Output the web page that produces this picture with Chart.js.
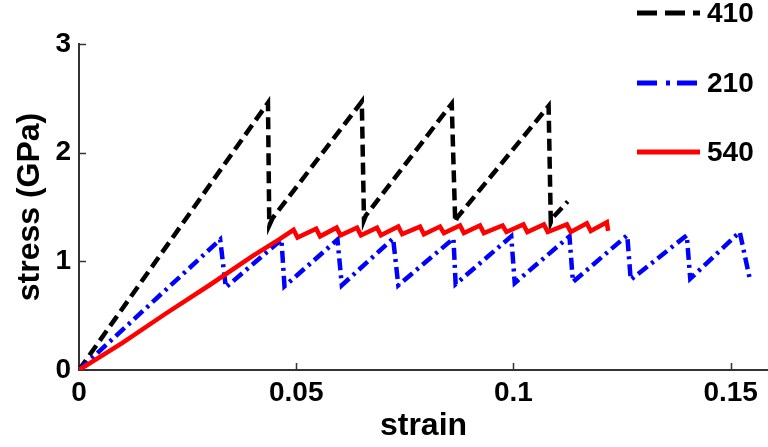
<!DOCTYPE html>
<html>
<head>
<meta charset="utf-8">
<script src="https://cdn.jsdelivr.net/npm/chart.js@4"></script>
<style>
    html, body { margin: 0; padding: 0; background: #fff; }
    #wrap { width: 768px; height: 447px; }
</style>
</head>
<body>
<div id="wrap"><canvas id="stressChart" width="768" height="447"></canvas></div>
<script>
const X_TICKS = [0, 0.05, 0.1, 0.15];
const Y_TICKS = [0, 1, 2, 3];
const SERIES_NAMES = ['410', '210', '540'];

// 410 - black dashed
const strain410 = [0, 0.0435, 0.0438, 0.0446, 0.0651, 0.0656, 0.0660, 0.0858, 0.0866, 0.0870, 0.1081, 0.1086, 0.1090, 0.1125];
const stress410 = [0, 2.46, 1.33, 1.40, 2.47, 1.38, 1.42, 2.45, 1.36, 1.40, 2.43, 1.36, 1.40, 1.55];

// 210 - blue dash-dot
const strain210 = [0, 0.0325, 0.0338, 0.0466, 0.0473, 0.0595, 0.0605, 0.0723, 0.0735, 0.0862, 0.0867,
    0.0995, 0.1003, 0.1129, 0.1137, 0.1262, 0.1270, 0.1399, 0.1407, 0.1521, 0.1544];
const stress210 = [0, 1.20, 0.76, 1.20, 0.77, 1.20, 0.78, 1.21, 0.78, 1.21, 0.79,
    1.23, 0.80, 1.23, 0.81, 1.24, 0.83, 1.24, 0.84, 1.27, 0.84];

// 540 - red solid
const strain540 = [0, 0.0100, 0.0200, 0.0300, 0.0400, 0.0460, 0.0494, 0.0503, 0.0546, 0.0555, 0.0593, 0.0602,
    0.0640, 0.0649, 0.0686, 0.0695, 0.0735, 0.0744, 0.0785, 0.0794, 0.0831, 0.0840, 0.0877, 0.0886,
    0.0923, 0.0932, 0.0975, 0.0984, 0.1023, 0.1032, 0.1070, 0.1079, 0.1123, 0.1132, 0.1169, 0.1178, 0.1215, 0.1218];
const stress540 = [0, 0.25, 0.52, 0.78, 1.05, 1.20, 1.29, 1.22, 1.30, 1.23, 1.31, 1.24,
    1.31, 1.24, 1.31, 1.24, 1.32, 1.25, 1.32, 1.25, 1.32, 1.26, 1.33, 1.26,
    1.33, 1.26, 1.33, 1.27, 1.34, 1.27, 1.34, 1.27, 1.34, 1.27, 1.35, 1.28, 1.36, 1.28];

const FONT = "'Liberation Sans', Arial, sans-serif";
const AXIS_COLOR = '#333';

function toPoints(xs, ys) {
    return xs.map((x, i) => ({ x: x, y: ys[i] }));
}

// matlab style ticks pointing into the plot
const inwardTicks = {
    id: 'inwardTicks',
    afterDatasetsDraw(chart) {
        const { ctx, scales: { x, y } } = chart;
        ctx.save();
        ctx.strokeStyle = AXIS_COLOR;
        ctx.lineWidth = 1.5;
        X_TICKS.slice(1).forEach(v => {
            const px = Math.round(x.getPixelForValue(v)) + 0.5;
            ctx.beginPath();
            ctx.moveTo(px, y.bottom);
            ctx.lineTo(px, y.bottom - 7);
            ctx.stroke();
        });
        Y_TICKS.slice(1).forEach(v => {
            const py = Math.round(y.getPixelForValue(v)) + 0.5;
            ctx.beginPath();
            ctx.moveTo(x.left, py);
            ctx.lineTo(x.left + 7, py);
            ctx.stroke();
        });
        ctx.restore();
    }
};

// legend sits in the top right corner, stacked
const cornerLegend = {
    id: 'cornerLegend',
    afterDraw(chart) {
        const ctx = chart.ctx;
        const rows = [
            { y: 13, color: '#000000', dash: [20, 8] },
            { y: 83, color: '#0000ff', dash: [20, 9, 4, 7] },
            { y: 152, color: '#ff0000', dash: [] }
        ];
        ctx.save();
        rows.forEach((r, i) => {
            ctx.beginPath();
            ctx.strokeStyle = r.color;
            ctx.lineWidth = 5;
            ctx.setLineDash(r.dash);
            ctx.moveTo(637, r.y);
            ctx.lineTo(700, r.y);
            ctx.stroke();
            ctx.setLineDash([]);
            ctx.fillStyle = '#000';
            ctx.font = 'bold 28px ' + FONT;
            ctx.textAlign = 'left';
            ctx.textBaseline = 'middle';
            ctx.fillText(SERIES_NAMES[i], 707, r.y + 1);
        });
        ctx.restore();
    }
};

const ctx = document.getElementById('stressChart').getContext('2d');
new Chart(ctx, {
    type: 'scatter',
    data: {
        datasets: [
            {
                label: SERIES_NAMES[2],
                data: toPoints(strain540, stress540),
                borderColor: '#ff0000',
                borderWidth: 4.5,
                showLine: true,
                pointRadius: 0,
                order: 0
            },
            {
                label: SERIES_NAMES[1],
                data: toPoints(strain210, stress210),
                borderColor: '#0000ff',
                borderWidth: 4.5,
                borderDash: [12, 5, 3, 5],
                showLine: true,
                pointRadius: 0,
                order: 1
            },
            {
                label: SERIES_NAMES[0],
                data: toPoints(strain410, stress410),
                borderColor: '#000000',
                borderWidth: 4.5,
                borderDash: [12, 6],
                showLine: true,
                pointRadius: 0,
                order: 2
            }
        ]
    },
    options: {
        responsive: false,
        animation: false,
        layout: { padding: { top: 44, right: 0, bottom: 0, left: 0 } },
        plugins: {
            legend: { display: false },
            tooltip: { enabled: false }
        },
        scales: {
            x: {
                type: 'linear',
                min: 0,
                max: 0.1586,
                afterBuildTicks: s => { s.ticks = X_TICKS.map(v => ({ value: v })); },
                afterFit: s => { s.height = 77; },
                grid: { display: false, drawTicks: false },
                border: { display: true, color: AXIS_COLOR, width: 2 },
                ticks: {
                    color: '#000',
                    padding: 6,
                    maxRotation: 0,
                    autoSkip: false,
                    font: { family: FONT, size: 28, weight: 'bold' },
                    callback: v => String(v)
                },
                title: {
                    display: true,
                    text: 'strain',
                    color: '#000',
                    font: { family: FONT, size: 32, weight: 'bold' },
                    padding: { top: 0, bottom: 2 }
                }
            },
            y: {
                type: 'linear',
                min: 0,
                max: 3,
                afterBuildTicks: s => { s.ticks = Y_TICKS.map(v => ({ value: v })); },
                afterFit: s => { s.width = 79; },
                grid: { display: false, drawTicks: false },
                border: { display: true, color: AXIS_COLOR, width: 2 },
                ticks: {
                    color: '#000',
                    padding: 8,
                    font: { family: FONT, size: 28, weight: 'bold' },
                    callback: v => String(v)
                },
                title: {
                    display: true,
                    text: 'stress (GPa)',
                    color: '#000',
                    font: { family: FONT, size: 32, weight: 'bold' },
                    padding: { top: 11, bottom: 0 }
                }
            }
        }
    },
    plugins: [inwardTicks, cornerLegend]
});
</script>
</body>
</html>
